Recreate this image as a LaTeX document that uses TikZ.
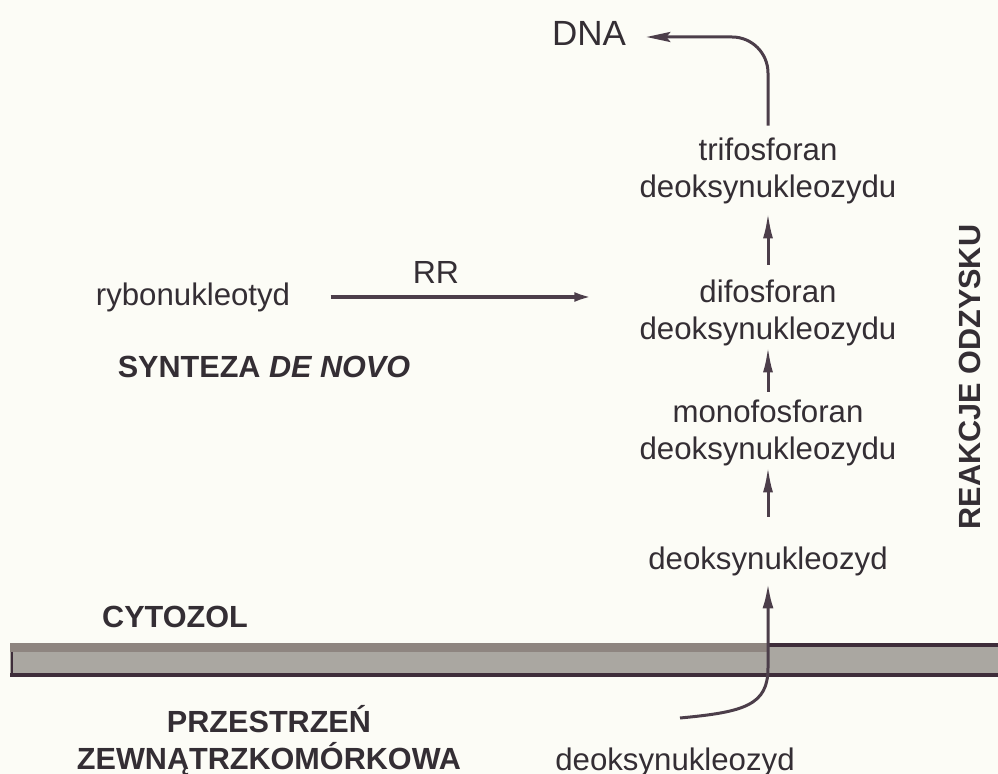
\documentclass[tikz,border=0pt]{standalone}
\usepackage{fontspec}
\setmainfont{Liberation Sans}
\usetikzlibrary{arrows.meta}
\definecolor{bg}{RGB}{252,252,246}
\definecolor{ink}{RGB}{52,46,52}
\definecolor{arrcol}{RGB}{76,62,74}
\definecolor{membfill}{RGB}{170,167,161}
\definecolor{membtop}{RGB}{142,133,128}
\definecolor{membline}{RGB}{62,45,58}

\begin{document}
\begin{tikzpicture}[x=0.5pt, y=-0.5pt,
        t/.style={inner sep=0pt, text=ink, align=center, font=\fontsize{15.6}{18.5}\selectfont},
        h/.style={inner sep=0pt, text=ink, align=center, font=\bfseries\fontsize{15.3}{18.5}\selectfont},
        arr/.style={draw=arrcol, line width=1.5pt, -{Latex[length=13pt,width=5pt]}}]
      \useasboundingbox[fill=bg] (0,0) rectangle (998,774);
      % membrane
      \fill[membfill] (10,643) rectangle (998,676);
      \fill[membtop] (10,643) rectangle (768,652);
      \draw[membline, line width=2pt] (768,645) -- (998,645);
      \draw[membline, line width=2pt] (10,675) -- (998,675);
      \draw[membline, line width=1pt] (12,652) -- (12,675);
      % nodes
      \node[t, font=\fontsize{17.5}{20}\selectfont] (dna) at (589,33) {DNA};
      \node[t] (tri) at (768,171) {trifosforan\\deoksynukleozydu};
      \node[t] (di) at (768,313) {difosforan\\deoksynukleozydu};
      \node[t] (mono) at (768,433) {monofosforan\\deoksynukleozydu};
      \node[t] (deo) at (768,561.5) {deoksynukleozyd};
      \node[t] (deo2) at (675,762) {deoksynukleozyd};
      \node[t] (ryb) at (193,297) {rybonukleotyd};
      \node[t, font=\fontsize{16}{19}\selectfont] (rr) at (436,272) {RR};
      \node[h] (dn) at (264,367) {SYNTEZA \textit{DE NOVO}};
      \node[h] (cyt) at (175,617) {CYTOZOL};
      \node[h] (zew) at (269,741) {PRZESTRZEŃ\\ZEWNĄTRZKOMÓRKOWA};
      \node[h, rotate=90] (odz) at (970,377) {REAKCJE ODZYSKU};
      \coordinate (in) at (680,718);
      % arrows
      \draw[arr, line width=2pt, -{Latex[length=9pt,width=5pt]}, shorten <=20pt, shorten >=23.5pt]
        (ryb.east) -- (ryb.east -| di.west);
      \draw[arr, shorten <=7.5pt, shorten >=4pt] (di.north) -- (tri.south);
      \draw[arr, shorten <=4pt] (mono.north) -- (di.south);
      \draw[arr, shorten <=15pt] (deo.north) -- (mono.south);
      \draw[arr, -{Stealth[length=12pt,width=5pt,inset=2pt]}, rounded corners=18pt,
            shorten <=6pt, shorten >=10pt] (tri.north) |- ([yshift=-2pt]dna.east);
      \draw[arr, -{Latex[length=12.5pt,width=5.5pt]}, shorten >=3.5pt]
        (in) .. controls (745,712) and (768,705) .. (768,668) -- (deo.south);
\end{tikzpicture}
\end{document}
